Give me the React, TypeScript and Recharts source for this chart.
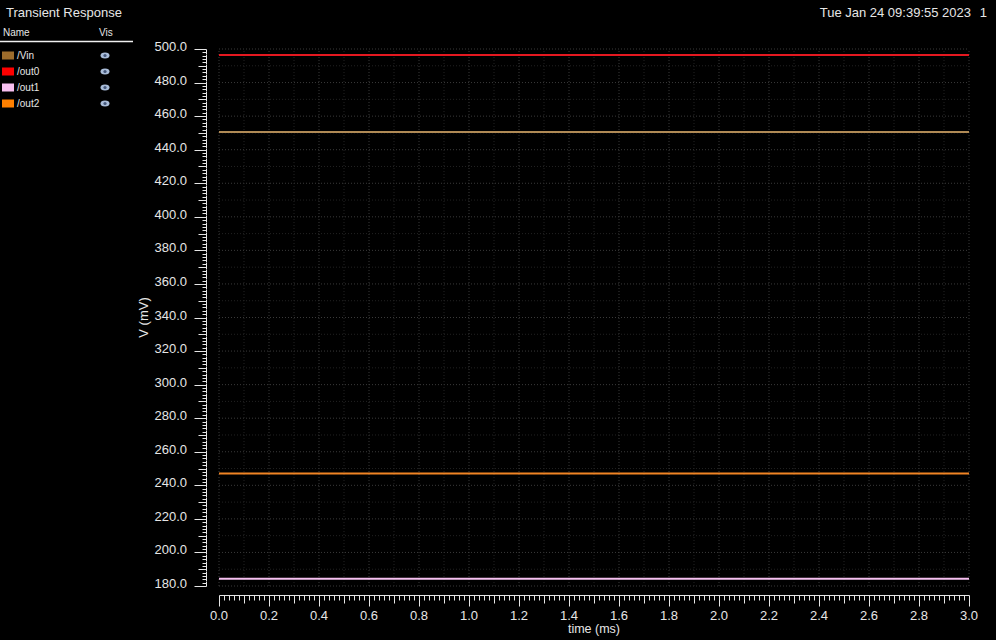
import { LineChart, Line, XAxis, YAxis, ReferenceLine, Label } from 'recharts';

// time axis (ms) and the four flat node voltages (mV)
const timeMs = [0.0, 3.0];
const vinMv = [450.6, 450.6];
const out0Mv = [496.4, 496.4];
const out1Mv = [184.3, 184.3];
const out2Mv = [247.0, 247.0];

const xMajorTicks = [0.0, 0.2, 0.4, 0.6, 0.8, 1.0, 1.2, 1.4, 1.6, 1.8, 2.0, 2.2, 2.4, 2.6, 2.8, 3.0];
const yMajorTicks = [180, 200, 220, 240, 260, 280, 300, 320, 340, 360, 380, 400, 420, 440, 460, 480, 500];

const X_MIN = 0;
const X_MAX = 3;
const Y_MIN = 180;
const Y_MAX = 500;

// minor ticks: 0.02 ms and 2 mV steps, grid every 0.1 ms and 10 mV
const xMinorTicks: number[] = [];
for (let i = 0; i <= 150; i++) xMinorTicks.push(Math.round(i * 2) / 100);
const yMinorTicks: number[] = [];
for (let v = Y_MIN; v <= Y_MAX; v += 2) yMinorTicks.push(v);
const xGrid: number[] = [];
for (let i = 0; i <= 30; i++) xGrid.push(i / 10);
const yGrid: number[] = [];
for (let v = Y_MIN; v <= Y_MAX; v += 10) yGrid.push(v);

const series = [
  { key: 'vin', name: '/Vin', values: vinMv, line: '#b08a55', swatch: '#9c6c2c' },
  { key: 'out0', name: '/out0', values: out0Mv, line: '#e41820', swatch: '#ff0000' },
  { key: 'out1', name: '/out1', values: out1Mv, line: '#f6c0f0', swatch: '#f8c0f0' },
  { key: 'out2', name: '/out2', values: out2Mv, line: '#f08424', swatch: '#ff8000' },
];

const data = timeMs.map((t, i) => {
  const row: Record<string, number> = { t };
  series.forEach(s => { row[s.key] = s.values[i]; });
  return row;
});

const FONT = '"Liberation Sans", Arial, Helvetica, sans-serif';
const AXIS = '#e6e6e6';
const TXT = '#e6e6e6';

function XTick(props: any) {
  const { x, y, payload } = props;
  const v = payload.value as number;
  const step = Math.round(v * 50);
  const major = step % 10 === 0;
  const mid = step % 5 === 0;
  const len = major ? 11 : mid ? 8 : 5;
  const ax = y + 9.5;
  const px = Math.round(x) + 0.5;
  const l = v <= X_MIN ? 0 : 2.6;
  const r = v >= X_MAX ? 0 : 2.6;
  return (
    <g>
      <line x1={px - l} x2={px + r} y1={ax} y2={ax} stroke={AXIS} strokeWidth={1} />
      <line x1={px} x2={px} y1={ax} y2={ax + len} stroke={AXIS} strokeWidth={1} />
      {major && xMajorTicks.some(m => Math.abs(m - v) < 1e-6) && (
        <text x={x} y={y + 34} textAnchor="middle" fill={TXT} fontSize={13} fontFamily={FONT}>
          {v.toFixed(1)}
        </text>
      )}
    </g>
  );
}

function YTick(props: any) {
  const { x, y, payload } = props;
  const v = payload.value as number;
  const major = v % 20 === 0;
  const mid = v % 10 === 0;
  const len = major ? 12 : mid ? 8 : 4;
  const ax = x - 12.5;
  const py = Math.round(y) + 0.5;
  const t = v >= Y_MAX ? 0 : 1.8;
  const b = v <= Y_MIN ? 0 : 1.8;
  return (
    <g>
      <line x1={ax} x2={ax} y1={py - t} y2={py + b} stroke={AXIS} strokeWidth={1} />
      <line x1={ax - len} x2={ax} y1={py} y2={py} stroke={AXIS} strokeWidth={1} />
      {major && yMajorTicks.includes(v) && (
        <text x={x - 32} y={y + 2} textAnchor="end" fill={TXT} fontSize={13} fontFamily={FONT}>
          {v.toFixed(1)}
        </text>
      )}
    </g>
  );
}

function Eye({ cx, cy }: { cx: number; cy: number }) {
  return (
    <g>
      <ellipse cx={cx} cy={cy} rx={4.5} ry={3} fill="#a9bcd8" />
      <circle cx={cx} cy={cy} r={1.6} fill="#44577a" />
    </g>
  );
}

export default function App() {
  return (
    <div style={{ position: 'fixed', top: 0, left: 0, width: 996, height: 640, background: '#000', overflow: 'hidden' }}>
      <LineChart
        width={996}
        height={640}
        data={data}
        margin={{ top: 49, right: 27, bottom: 6, left: 139 }}
      >
        {yGrid.map(v => (
          <ReferenceLine
            key={'h' + v}
            y={v}
            stroke={v % 20 === 0 ? '#3a3a3a' : '#222222'}
            strokeDasharray="1 2"
          />
        ))}
        {xGrid.map(v => (
          <ReferenceLine
            key={'v' + v}
            x={v}
            stroke={Math.round(v * 10) % 2 === 0 ? '#3a3a3a' : '#222222'}
            strokeDasharray="1 2"
          />
        ))}
        <XAxis
          dataKey="t"
          type="number"
          domain={[X_MIN, X_MAX]}
          ticks={xMinorTicks}
          interval={0}
          height={48}
          axisLine={false}
          tickLine={false}
          tickSize={0}
          tickMargin={0}
          tick={(p: any) => <XTick {...p} />}
        >
          <Label
            content={(p: any) => {
              const vb = p.viewBox;
              return (
                <text x={vb.x + vb.width / 2} y={vb.y + vb.height - 1} textAnchor="middle" fill={TXT} fontSize={12.5} fontFamily={FONT}>
                  time (ms)
                </text>
              );
            }}
          />
        </XAxis>
        <YAxis
          type="number"
          domain={[Y_MIN, Y_MAX]}
          ticks={yMinorTicks}
          interval={0}
          width={80}
          axisLine={false}
          tickLine={false}
          tickSize={0}
          tickMargin={0}
          tick={(p: any) => <YTick {...p} />}
        >
          <Label
            content={(p: any) => {
              const vb = p.viewBox;
              const cx = vb.x + 9;
              const cy = vb.y + vb.height / 2;
              return (
                <text x={cx} y={cy} transform={`rotate(-90 ${cx} ${cy})`} textAnchor="middle" fill={TXT} fontSize={13} fontFamily={FONT}>
                  V (mV)
                </text>
              );
            }}
          />
        </YAxis>
        {series.map(s => (
          <Line
            key={s.key}
            dataKey={s.key}
            name={s.name}
            stroke={s.line}
            strokeWidth={2}
            dot={false}
            activeDot={false}
            isAnimationActive={false}
          />
        ))}
      </LineChart>

      <svg width={996} height={640} style={{ position: 'absolute', top: 0, left: 0, pointerEvents: 'none' }}>
        <text x={6} y={17} fill={TXT} fontSize={13} fontFamily={FONT}>Transient Response</text>
        <text x={971} y={17} textAnchor="end" fill={TXT} fontSize={13} fontFamily={FONT}>Tue Jan 24 09:39:55 2023</text>
        <text x={987} y={17} textAnchor="end" fill={TXT} fontSize={13} fontFamily={FONT}>1</text>
        <text x={3} y={36} fill={TXT} fontSize={10} fontFamily={FONT}>Name</text>
        <text x={99} y={36} fill={TXT} fontSize={10} fontFamily={FONT}>Vis</text>
        <line x1={0} x2={133} y1={41.5} y2={41.5} stroke="#f0f0f0" strokeWidth={1.5} />
        {series.map((s, i) => {
          const cy = 55.5 + i * 16;
          return (
            <g key={s.key}>
              <rect x={2} y={cy - 4} width={12} height={8} fill={s.swatch} />
              <text x={17} y={cy + 3.5} fill={TXT} fontSize={10} fontFamily={FONT}>{s.name}</text>
              <Eye cx={105} cy={cy} />
            </g>
          );
        })}
      </svg>
    </div>
  );
}
